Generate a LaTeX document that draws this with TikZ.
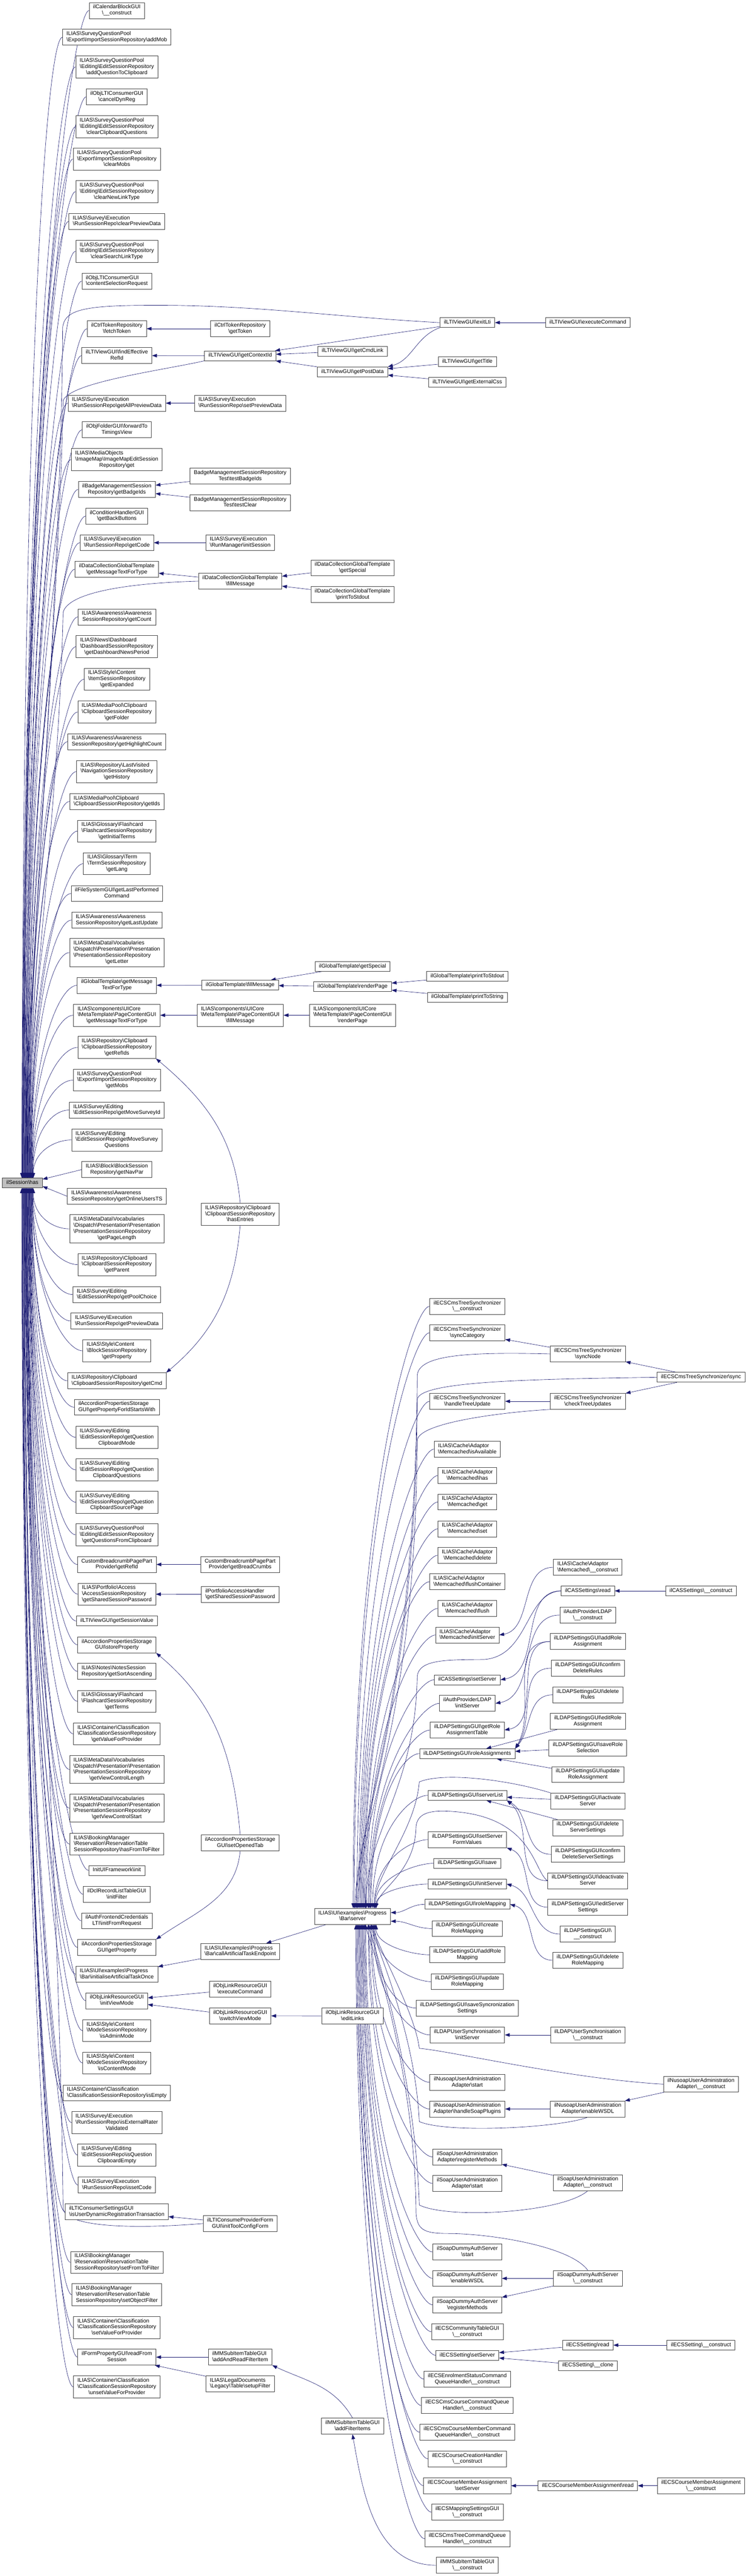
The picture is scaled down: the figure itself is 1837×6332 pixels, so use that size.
\documentclass[tikz,border=0pt]{standalone}
\usepackage{fontspec}
\setmainfont{Liberation Sans}
\usetikzlibrary{arrows.meta,calc}
\pgfdeclarelayer{edges}
\pgfsetlayers{edges,main}
\definecolor{callblue}{HTML}{191970}
\definecolor{boxline}{HTML}{404040}
\definecolor{rootgray}{HTML}{BFBFBF}
\newcommand\bsl{\textbackslash}
% all lines but the last left aligned, the last one centred
\newcommand\ftext[2]{\begin{tabular}{@{}l@{}}#1\multicolumn{1}{@{}c@{}}{#2}\end{tabular}}
\tikzset{
  func/.style={draw=boxline, fill=white, line width=0.75pt, inner xsep=7.3pt, inner ysep=3.4pt,
    font=\fontsize{10}{11.25}\selectfont},
  rootfn/.style={func, fill=rootgray},
  call/.style={draw=callblue, line width=0.6pt, -{Triangle[length=9pt,width=6.5pt]}},
}
% edges into ilSession\has from above and from below
\newcommand\tohas[1]{\draw[call] let \p1=(#1.west), \p2=(root.north west),
  \n1={36pt+22pt*((\y1)/(\y2))}, \n2={0.7*(\y1-\y2)} in
  (\p1) .. controls +(-30pt,0pt) and +(0pt,\n2) .. (\x2+\n1,\y2);}
\newcommand\tohasb[1]{\draw[call] let \p1=(#1.west), \p2=(root.south west),
  \n1={36pt+22pt*((\y1+4400pt)/(\y2+4400pt))}, \n2={0.7*(\y2-\y1)} in
  (\p1) .. controls +(-30pt,0pt) and +(0pt,-\n2) .. (\x2+\n1,\y2);}
% edges into Progress\Bar\server
\newcommand\tohub[1]{\draw[call] let \p1=(#1.west), \p2=(hub.north west),
  \n1={71pt+45pt*((\y1+2393pt)/(\y2+2393pt))}, \n2={0.7*(\y1-\y2)} in
  (\p1) .. controls +(-30pt,0pt) and +(0pt,\n2) .. (\x2+\n1,\y2);}
\newcommand\tohubb[1]{\draw[call] let \p1=(#1.west), \p2=(hub.south west),
  \n1={76pt+40pt*((\y1+4700pt)/(\y2+4700pt))}, \n2={0.7*(\y2-\y1)} in
  (\p1) .. controls +(-30pt,0pt) and +(0pt,-\n2) .. (\x2+\n1,\y2);}
\begin{document}
\begin{tikzpicture}[x=0.75pt,y=-0.75pt]
\useasboundingbox (0,0) rectangle (1837,6332);

\node[rootfn] (root) at (55,2908) {\ftext{}{ilSession\bsl has}};

% direct callers
\node[func] (a1) at (287,26) {\ftext{ilCalendarBlockGUI\\}{\bsl\_\_construct}};
\node[func] (a2) at (287,91.5) {\ftext{ILIAS\bsl SurveyQuestionPool\\}{\bsl Export\bsl ImportSessionRepository\bsl addMob}};
\node[func] (a3) at (287,164.5) {\ftext{ILIAS\bsl SurveyQuestionPool\\ \bsl Editing\bsl EditSessionRepository\\}{\bsl addQuestionToClipboard}};
\node[func] (a4) at (287,238) {\ftext{ilObjLTIConsumerGUI\\}{\bsl cancelDynReg}};
\node[func] (a5) at (287,311.5) {\ftext{ILIAS\bsl SurveyQuestionPool\\ \bsl Editing\bsl EditSessionRepository\\}{\bsl clearClipboardQuestions}};
\node[func] (a6) at (287,391) {\ftext{ILIAS\bsl SurveyQuestionPool\\ \bsl Export\bsl ImportSessionRepository\\}{\bsl clearMobs}};
\node[func] (a7) at (287,471) {\ftext{ILIAS\bsl SurveyQuestionPool\\ \bsl Editing\bsl EditSessionRepository\\}{\bsl clearNewLinkType}};
\node[func] (a8) at (287,544) {\ftext{ILIAS\bsl Survey\bsl Execution\\}{\bsl RunSessionRepo\bsl clearPreviewData}};
\node[func] (a9) at (287,617.5) {\ftext{ILIAS\bsl SurveyQuestionPool\\ \bsl Editing\bsl EditSessionRepository\\}{\bsl clearSearchLinkType}};
\node[func] (a10) at (287,691) {\ftext{ilObjLTIConsumerGUI\\}{\bsl contentSelectionRequest}};
\node[func] (a11) at (287,808) {\ftext{ilCtrlTokenRepository\\}{\bsl fetchToken}};
\node[func] (a12) at (287,874) {\ftext{ilLTIViewGUI\bsl findEffective\\}{RefId}};
\node[func] (a13) at (287,991) {\ftext{ILIAS\bsl Survey\bsl Execution\\}{\bsl RunSessionRepo\bsl getAllPreviewData}};
\node[func] (a14) at (287,1056.5) {\ftext{ilObjFolderGUI\bsl forwardTo\\}{TimingsView}};
\node[func] (a15) at (287,1129.5) {\ftext{ILIAS\bsl MediaObjects\\ \bsl ImageMap\bsl ImageMapEditSession\\}{Repository\bsl get}};
\node[func] (a16) at (287,1203) {\ftext{ilBadgeManagementSession\\}{Repository\bsl getBadgeIds}};
\node[func] (a17) at (287,1268.5) {\ftext{ilConditionHandlerGUI\\}{\bsl getBackButtons}};
\node[func] (a18) at (287,1334) {\ftext{ILIAS\bsl Survey\bsl Execution\\}{\bsl RunSessionRepo\bsl getCode}};
\node[func] (a19) at (287,1399) {\ftext{ilDataCollectionGlobalTemplate\\}{\bsl getMessageTextForType}};
\node[func] (a20) at (287,1516.5) {\ftext{ILIAS\bsl Awareness\bsl Awareness\\}{SessionRepository\bsl getCount}};
\node[func] (a21) at (287,1589.5) {\ftext{ILIAS\bsl News\bsl Dashboard\\ \bsl DashboardSessionRepository\\}{\bsl getDashboardNewsPeriod}};
\node[func] (a22) at (287,1669.5) {\ftext{ILIAS\bsl Style\bsl Content\\ \bsl ItemSessionRepository\\}{\bsl getExpanded}};
\node[func] (a23) at (287,1750) {\ftext{ILIAS\bsl MediaPool\bsl Clipboard\\ \bsl ClipboardSessionRepository\\}{\bsl getFolder}};
\node[func] (a24) at (287,1823) {\ftext{ILIAS\bsl Awareness\bsl Awareness\\}{SessionRepository\bsl getHighlightCount}};
\node[func] (a25) at (287,1896.5) {\ftext{ILIAS\bsl Repository\bsl LastVisited\\ \bsl NavigationSessionRepository\\}{\bsl getHistory}};
\node[func] (a26) at (287,1970) {\ftext{ILIAS\bsl MediaPool\bsl Clipboard\\}{\bsl ClipboardSessionRepository\bsl getIds}};
\node[func] (a27) at (287,2043) {\ftext{ILIAS\bsl Glossary\bsl Flashcard\\ \bsl FlashcardSessionRepository\\}{\bsl getInitialTerms}};
\node[func] (a28) at (287,2123) {\ftext{ILIAS\bsl Glossary\bsl Term\\ \bsl TermSessionRepository\\}{\bsl getLang}};
\node[func] (a29) at (287,2196.5) {\ftext{ilFileSystemGUI\bsl getLastPerformed\\}{Command}};
\node[func] (a30) at (287,2261.5) {\ftext{ILIAS\bsl Awareness\bsl Awareness\\}{SessionRepository\bsl getLastUpdate}};
\node[func] (a31) at (287,2341.5) {\ftext{ILIAS\bsl MetaData\bsl Vocabularies\\ \bsl Dispatch\bsl Presentation\bsl Presentation\\ \bsl PresentationSessionRepository\\}{\bsl getLetter}};
\node[func] (a32) at (287,2422) {\ftext{ilGlobalTemplate\bsl getMessage\\}{TextForType}};
\node[func] (a33) at (287,2495.5) {\ftext{ILIAS\bsl components\bsl UICore\\ \bsl MetaTemplate\bsl PageContentGUI\\}{\bsl getMessageTextForType}};
\node[func] (a34) at (287,2574.5) {\ftext{ILIAS\bsl Repository\bsl Clipboard\\ \bsl ClipboardSessionRepository\\}{\bsl getRefIds}};
\node[func] (a35) at (287,2655) {\ftext{ILIAS\bsl SurveyQuestionPool\\ \bsl Export\bsl ImportSessionRepository\\}{\bsl getMobs}};
\node[func] (a36) at (287,2728.5) {\ftext{ILIAS\bsl Survey\bsl Editing\\}{\bsl EditSessionRepo\bsl getMoveSurveyId}};
\node[func] (a37) at (287,2802) {\ftext{ILIAS\bsl Survey\bsl Editing\\ \bsl EditSessionRepo\bsl getMoveSurvey\\}{Questions}};
\node[func] (a38) at (287,2875) {\ftext{ILIAS\bsl Block\bsl BlockSession\\}{Repository\bsl getNavPar}};
\node[func] (a39) at (287,2940.5) {\ftext{ILIAS\bsl Awareness\bsl Awareness\\}{SessionRepository\bsl getOnlineUsersTS}};
\node[func] (a40) at (287,3020.5) {\ftext{ILIAS\bsl MetaData\bsl Vocabularies\\ \bsl Dispatch\bsl Presentation\bsl Presentation\\ \bsl PresentationSessionRepository\\}{\bsl getPageLength}};
\node[func] (a41) at (287,3108.5) {\ftext{ILIAS\bsl Repository\bsl Clipboard\\ \bsl ClipboardSessionRepository\\}{\bsl getParent}};
\node[func] (a42) at (287,3182) {\ftext{ILIAS\bsl Survey\bsl Editing\\}{\bsl EditSessionRepo\bsl getPoolChoice}};
\node[func] (a43) at (287,3247) {\ftext{ILIAS\bsl Survey\bsl Execution\\}{\bsl RunSessionRepo\bsl getPreviewData}};
\node[func] (a44) at (287,3320.5) {\ftext{ILIAS\bsl Style\bsl Content\\ \bsl BlockSessionRepository\\}{\bsl getProperty}};
\node[func] (a45) at (287,3394) {\ftext{ILIAS\bsl Repository\bsl Clipboard\\}{\bsl ClipboardSessionRepository\bsl getCmd}};
\node[func] (a46) at (287,3459) {\ftext{ilAccordionPropertiesStorage\\}{GUI\bsl getPropertyForIdStartsWith}};
\node[func] (a47) at (287,3533) {\ftext{ILIAS\bsl Survey\bsl Editing\\ \bsl EditSessionRepo\bsl getQuestion\\}{ClipboardMode}};
\node[func] (a48) at (287,3613) {\ftext{ILIAS\bsl Survey\bsl Editing\\ \bsl EditSessionRepo\bsl getQuestion\\}{ClipboardQuestions}};
\node[func] (a49) at (287,3692.5) {\ftext{ILIAS\bsl Survey\bsl Editing\\ \bsl EditSessionRepo\bsl getQuestion\\}{ClipboardSourcePage}};
\node[func] (a50) at (287,3772.5) {\ftext{ILIAS\bsl SurveyQuestionPool\\ \bsl Editing\bsl EditSessionRepository\\}{\bsl getQuestionsFromClipboard}};
\node[func] (a51) at (287,3845.5) {\ftext{CustomBreadcrumbPagePart\\}{Provider\bsl getRefId}};
\node[func] (a52) at (287,3918.5) {\ftext{ILIAS\bsl Portfolio\bsl Access\\ \bsl AccessSessionRepository\\}{\bsl getSharedSessionPassword}};
\node[func] (a53) at (287,3984.5) {\ftext{}{ilLTIViewGUI\bsl getSessionValue}};
\node[func] (a54) at (287,4043) {\ftext{ilAccordionPropertiesStorage\\}{GUI\bsl storeProperty}};
\node[func] (a55) at (287,4108.5) {\ftext{ILIAS\bsl Notes\bsl NotesSession\\}{Repository\bsl getSortAscending}};
\node[func] (a56) at (287,4182) {\ftext{ILIAS\bsl Glossary\bsl Flashcard\\ \bsl FlashcardSessionRepository\\}{\bsl getTerms}};
\node[func] (a57) at (287,4262) {\ftext{ILIAS\bsl Container\bsl Classification\\ \bsl ClassificationSessionRepository\\}{\bsl getValueForProvider}};
\node[func] (a58) at (287,4349.5) {\ftext{ILIAS\bsl MetaData\bsl Vocabularies\\ \bsl Dispatch\bsl Presentation\bsl Presentation\\ \bsl PresentationSessionRepository\\}{\bsl getViewControlLength}};
\node[func] (a59) at (287,4444.5) {\ftext{ILIAS\bsl MetaData\bsl Vocabularies\\ \bsl Dispatch\bsl Presentation\bsl Presentation\\ \bsl PresentationSessionRepository\\}{\bsl getViewControlStart}};
\node[func] (a60) at (287,4533) {\ftext{ILIAS\bsl BookingManager\\ \bsl Reservation\bsl ReservationTable\\}{SessionRepository\bsl hasFromToFilter}};
\node[func] (a61) at (287,4597.5) {\ftext{}{InitUIFramework\bsl init}};
\node[func] (a62) at (287,4656.5) {\ftext{ilDclRecordListTableGUI\\}{\bsl initFilter}};
\node[func] (a63) at (287,4721.5) {\ftext{ilAuthFrontendCredentials\\}{LTI\bsl initFromRequest}};
\node[func] (a64) at (287,4787) {\ftext{ilAccordionPropertiesStorage\\}{GUI\bsl getProperty}};
\node[func] (a65) at (287,4853) {\ftext{ILIAS\bsl UI\bsl examples\bsl Progress\\}{\bsl Bar\bsl initialiseArtificialTaskOnce}};
\node[func] (a66) at (287,4918) {\ftext{ilObjLinkResourceGUI\\}{\bsl initViewMode}};
\node[func] (a67) at (287,4991.5) {\ftext{ILIAS\bsl Style\bsl Content\\ \bsl ModeSessionRepository\\}{\bsl isAdminMode}};
\node[func] (a68) at (287,5071) {\ftext{ILIAS\bsl Style\bsl Content\\ \bsl ModeSessionRepository\\}{\bsl isContentMode}};
\node[func] (a69) at (287,5144.5) {\ftext{ILIAS\bsl Container\bsl Classification\\}{\bsl ClassificationSessionRepository\bsl isEmpty}};
\node[func] (a70) at (287,5217.5) {\ftext{ILIAS\bsl Survey\bsl Execution\\ \bsl RunSessionRepo\bsl isExternalRater\\}{Validated}};
\node[func] (a71) at (287,5297.5) {\ftext{ILIAS\bsl Survey\bsl Editing\\ \bsl EditSessionRepo\bsl isQuestion\\}{ClipboardEmpty}};
\node[func] (a72) at (287,5371) {\ftext{ILIAS\bsl Survey\bsl Execution\\}{\bsl RunSessionRepo\bsl issetCode}};
\node[func] (a73) at (287,5436.5) {\ftext{ilLTIConsumerSettingsGUI\\}{\bsl isUserDynamicRegistrationTransaction}};
\node[func] (a74) at (287,5561) {\ftext{ILIAS\bsl BookingManager\\ \bsl Reservation\bsl ReservationTable\\}{SessionRepository\bsl setFromToFilter}};
\node[func] (a75) at (287,5640.5) {\ftext{ILIAS\bsl BookingManager\\ \bsl Reservation\bsl ReservationTable\\}{SessionRepository\bsl setObjectFilter}};
\node[func] (a76) at (287,5721) {\ftext{ILIAS\bsl Container\bsl Classification\\ \bsl ClassificationSessionRepository\\}{\bsl setValueForProvider}};
\node[func] (a77) at (287,5794) {\ftext{ilFormPropertyGUI\bsl readFrom\\}{Session}};
\node[func] (a78) at (287,5867) {\ftext{ILIAS\bsl Container\bsl Classification\\ \bsl ClassificationSessionRepository\\}{\bsl unsetValueForProvider}};

% second level
\node[func] (b1) at (590,808) {\ftext{ilCtrlTokenRepository\\}{\bsl getToken}};
\node[func] (b2) at (590,874.5) {\ftext{}{ilLTIViewGUI\bsl getContextId}};
\node[func] (b3) at (590,991) {\ftext{ILIAS\bsl Survey\bsl Execution\\}{\bsl RunSessionRepo\bsl setPreviewData}};
\node[func] (b4) at (590,1170) {\ftext{BadgeManagementSessionRepository\\}{Test\bsl testBadgeIds}};
\node[func] (b5) at (590,1235.5) {\ftext{BadgeManagementSessionRepository\\}{Test\bsl testClear}};
\node[func] (b6) at (590,1334) {\ftext{ILIAS\bsl Survey\bsl Execution\\}{\bsl RunManager\bsl initSession}};
\node[func] (b7) at (590,1428.5) {\ftext{ilDataCollectionGlobalTemplate\\}{\bsl fillMessage}};
\node[func] (b8) at (590,2421.5) {\ftext{}{ilGlobalTemplate\bsl fillMessage}};
\node[func] (b9) at (590,2495.5) {\ftext{ILIAS\bsl components\bsl UICore\\ \bsl MetaTemplate\bsl PageContentGUI\\}{\bsl fillMessage}};
\node[func] (b10) at (590,2984.5) {\ftext{ILIAS\bsl Repository\bsl Clipboard\\ \bsl ClipboardSessionRepository\\}{\bsl hasEntries}};
\node[func] (b11) at (590,3845.5) {\ftext{CustomBreadcrumbPagePart\\}{Provider\bsl getBreadCrumbs}};
\node[func] (b12) at (590,3919) {\ftext{ilPortfolioAccessHandler\\}{\bsl getSharedSessionPassword}};
\node[func] (b13) at (590,4529.5) {\ftext{ilAccordionPropertiesStorage\\}{GUI\bsl setOpenedTab}};
\node[func] (b14) at (590,4796.5) {\ftext{ILIAS\bsl UI\bsl examples\bsl Progress\\}{\bsl Bar\bsl callArtificialTaskEndpoint}};
\node[func] (b15) at (590,4889.5) {\ftext{ilObjLinkResourceGUI\\}{\bsl executeCommand}};
\node[func] (b16) at (590,4955) {\ftext{ilObjLinkResourceGUI\\}{\bsl switchViewMode}};
\node[func] (b17) at (590,5465.5) {\ftext{ilLTIConsumeProviderForm\\}{GUI\bsl initToolConfigForm}};
\node[func] (b18) at (590,5794) {\ftext{ilMMSubItemTableGUI\\}{\bsl addAndReadFilterItem}};
\node[func] (b19) at (590,5859) {\ftext{ILIAS\bsl LegalDocuments\\}{\bsl Legacy\bsl Table\bsl setupFilter}};

% third level
\node[func] (d3) at (866,863) {\ftext{}{ilLTIViewGUI\bsl getCmdLink}};
\node[func] (d4) at (866,914) {\ftext{}{ilLTIViewGUI\bsl getPostData}};
\node[func] (e1) at (866,1396) {\ftext{ilDataCollectionGlobalTemplate\\}{\bsl getSpecial}};
\node[func] (e2) at (866,1461.5) {\ftext{ilDataCollectionGlobalTemplate\\}{\bsl printToStdout}};
\node[func] (e3) at (866,2375.5) {\ftext{}{ilGlobalTemplate\bsl getSpecial}};
\node[func] (e4) at (866,2425) {\ftext{}{ilGlobalTemplate\bsl renderPage}};
\node[func] (e7) at (866,2495.5) {\ftext{ILIAS\bsl components\bsl UICore\\ \bsl MetaTemplate\bsl PageContentGUI\\}{\bsl renderPage}};
\node[func] (hub) at (866,4710.5) {\ftext{ILIAS\bsl UI\bsl examples\bsl Progress\\}{\bsl Bar\bsl server}};
\node[func] (d1) at (866,4955.5) {\ftext{ilObjLinkResourceGUI\\}{\bsl editLinks}};
\node[func] (d2) at (866,5963.5) {\ftext{ilMMSubItemTableGUI\\}{\bsl addFilterItems}};

% fourth level and beyond, top part
\node[func] (c1) at (1148,793) {\ftext{}{ilLTIViewGUI\bsl exitLti}};
\node[func] (c3) at (1148,889) {\ftext{}{ilLTIViewGUI\bsl getTitle}};
\node[func] (c4) at (1148,940) {\ftext{}{ilLTIViewGUI\bsl getExternalCss}};
\node[func] (c2) at (1444,793) {\ftext{}{ilLTIViewGUI\bsl executeCommand}};
\node[func] (e5) at (1148,2400) {\ftext{}{ilGlobalTemplate\bsl printToStdout}};
\node[func] (e6) at (1148,2451) {\ftext{}{ilGlobalTemplate\bsl printToString}};

% callers of Progress\Bar\server
\node[func] (h1) at (1148,3211) {\ftext{ilECSCmsTreeSynchronizer\\}{\bsl\_\_construct}};
\node[func] (h2) at (1148,3276) {\ftext{ilECSCmsTreeSynchronizer\\}{\bsl syncCategory}};
\node[func] (h3) at (1148,3444.5) {\ftext{ilECSCmsTreeSynchronizer\\}{\bsl handleTreeUpdate}};
\node[func] (h4) at (1148,3562) {\ftext{ILIAS\bsl Cache\bsl Adaptor\\}{\bsl Memcached\bsl isAvailable}};
\node[func] (h5) at (1148,3627) {\ftext{ILIAS\bsl Cache\bsl Adaptor\\}{\bsl Memcached\bsl has}};
\node[func] (h6) at (1148,3692) {\ftext{ILIAS\bsl Cache\bsl Adaptor\\}{\bsl Memcached\bsl get}};
\node[func] (h7) at (1148,3758) {\ftext{ILIAS\bsl Cache\bsl Adaptor\\}{\bsl Memcached\bsl set}};
\node[func] (h8) at (1148,3823) {\ftext{ILIAS\bsl Cache\bsl Adaptor\\}{\bsl Memcached\bsl delete}};
\node[func] (h9) at (1148,3888) {\ftext{ILIAS\bsl Cache\bsl Adaptor\\}{\bsl Memcached\bsl flushContainer}};
\node[func] (h10) at (1148,3953.5) {\ftext{ILIAS\bsl Cache\bsl Adaptor\\}{\bsl Memcached\bsl flush}};
\node[func] (h11) at (1148,4019) {\ftext{ILIAS\bsl Cache\bsl Adaptor\\}{\bsl Memcached\bsl initServer}};
\node[func] (h12) at (1148,4129) {\ftext{}{ilCASSettings\bsl setServer}};
\node[func] (h13) at (1148,4187) {\ftext{ilAuthProviderLDAP\\}{\bsl initServer}};
\node[func] (h14) at (1148,4252.5) {\ftext{ilLDAPSettingsGUI\bsl getRole\\}{AssignmentTable}};
\node[func] (h15) at (1148,4310.5) {\ftext{}{ilLDAPSettingsGUI\bsl roleAssignments}};
\node[func] (h16) at (1148,4413) {\ftext{}{ilLDAPSettingsGUI\bsl serverList}};
\node[func] (h17) at (1148,4522) {\ftext{ilLDAPSettingsGUI\bsl setServer\\}{FormValues}};
\node[func] (h18) at (1148,4580) {\ftext{}{ilLDAPSettingsGUI\bsl save}};
\node[func] (h19) at (1148,4631) {\ftext{}{ilLDAPSettingsGUI\bsl initServer}};
\node[func] (h20) at (1148,4681) {\ftext{}{ilLDAPSettingsGUI\bsl roleMapping}};
\node[func] (h21) at (1148,4740.5) {\ftext{ilLDAPSettingsGUI\bsl create\\}{RoleMapping}};
\node[func] (h22) at (1148,4805) {\ftext{ilLDAPSettingsGUI\bsl addRole\\}{Mapping}};
\node[func] (h23) at (1148,4871) {\ftext{ilLDAPSettingsGUI\bsl update\\}{RoleMapping}};
\node[func] (h24) at (1148,4936) {\ftext{ilLDAPSettingsGUI\bsl saveSyncronization\\}{Settings}};
\node[func] (h25) at (1148,5002) {\ftext{ilLDAPUserSynchronisation\\}{\bsl initServer}};
\node[func] (h26) at (1148,5118.5) {\ftext{ilNusoapUserAdministration\\}{Adapter\bsl start}};
\node[func] (h27) at (1148,5184) {\ftext{ilNusoapUserAdministration\\}{Adapter\bsl handleSoapPlugins}};
\node[func] (h28) at (1148,5302) {\ftext{ilSoapUserAdministration\\}{Adapter\bsl registerMethods}};
\node[func] (h29) at (1148,5367) {\ftext{ilSoapUserAdministration\\}{Adapter\bsl start}};
\node[func] (h30) at (1148,5535.5) {\ftext{ilSoapDummyAuthServer\\}{\bsl start}};
\node[func] (h31) at (1148,5600.5) {\ftext{ilSoapDummyAuthServer\\}{\bsl enableWSDL}};
\node[func] (h32) at (1148,5665.5) {\ftext{ilSoapDummyAuthServer\\}{\bsl registerMethods}};
\node[func] (h33) at (1148,5731.5) {\ftext{ilECSCommunityTableGUI\\}{\bsl\_\_construct}};
\node[func] (h34) at (1148,5789.5) {\ftext{}{ilECSSetting\bsl setServer}};
\node[func] (h35) at (1148,5848) {\ftext{ilECSEnrolmentStatusCommand\\}{QueueHandler\bsl\_\_construct}};
\node[func] (h36) at (1148,5913) {\ftext{ilECSCmsCourseCommandQueue\\}{Handler\bsl\_\_construct}};
\node[func] (h37) at (1148,5978.5) {\ftext{ilECSCmsCourseMemberCommand\\}{QueueHandler\bsl\_\_construct}};
\node[func] (h38) at (1148,6044) {\ftext{ilECSCourseCreationHandler\\}{\bsl\_\_construct}};
\node[func] (h39) at (1148,6110) {\ftext{ilECSCourseMemberAssignment\\}{\bsl setServer}};
\node[func] (h40) at (1148,6175) {\ftext{ilECSMappingSettingsGUI\\}{\bsl\_\_construct}};
\node[func] (h41) at (1148,6240.5) {\ftext{ilECSCmsTreeCommandQueue\\}{Handler\bsl\_\_construct}};
\node[func] (h42) at (1148,6305.5) {\ftext{ilMMSubItemTableGUI\\}{\bsl\_\_construct}};

\node[func] (g1) at (1444,3328) {\ftext{ilECSCmsTreeSynchronizer\\}{\bsl syncNode}};
\node[func] (g2) at (1444,3444.5) {\ftext{ilECSCmsTreeSynchronizer\\}{\bsl checkTreeUpdates}};
\node[func] (g3) at (1444,3852.5) {\ftext{ILIAS\bsl Cache\bsl Adaptor\\}{\bsl Memcached\bsl\_\_construct}};
\node[func] (g4) at (1444,3910.5) {\ftext{}{ilCASSettings\bsl read}};
\node[func] (g5) at (1444,3970) {\ftext{ilAuthProviderLDAP\\}{\bsl\_\_construct}};
\node[func] (g6) at (1444,4035) {\ftext{ilLDAPSettingsGUI\bsl addRole\\}{Assignment}};
\node[func] (g7) at (1444,4100.5) {\ftext{ilLDAPSettingsGUI\bsl confirm\\}{DeleteRules}};
\node[func] (g8) at (1444,4166) {\ftext{ilLDAPSettingsGUI\bsl delete\\}{Rules}};
\node[func] (g9) at (1444,4231) {\ftext{ilLDAPSettingsGUI\bsl editRole\\}{Assignment}};
\node[func] (g10) at (1444,4296.5) {\ftext{ilLDAPSettingsGUI\bsl saveRole\\}{Selection}};
\node[func] (g11) at (1444,4362) {\ftext{ilLDAPSettingsGUI\bsl update\\}{RoleAssignment}};
\node[func] (g12) at (1444,4427) {\ftext{ilLDAPSettingsGUI\bsl activate\\}{Server}};
\node[func] (g13) at (1444,4492.5) {\ftext{ilLDAPSettingsGUI\bsl delete\\}{ServerSettings}};
\node[func] (g14) at (1444,4558) {\ftext{ilLDAPSettingsGUI\bsl confirm\\}{DeleteServerSettings}};
\node[func] (g15) at (1444,4623) {\ftext{ilLDAPSettingsGUI\bsl deactivate\\}{Server}};
\node[func] (g16) at (1444,4688) {\ftext{ilLDAPSettingsGUI\bsl editServer\\}{Settings}};
\node[func] (g17) at (1444,4754) {\ftext{ilLDAPSettingsGUI\bsl\\}{\_\_construct}};
\node[func] (g18) at (1444,4818.5) {\ftext{ilLDAPSettingsGUI\bsl delete\\}{RoleMapping}};
\node[func] (g19) at (1444,5002) {\ftext{ilLDAPUserSynchronisation\\}{\bsl\_\_construct}};
\node[func] (g20) at (1444,5184) {\ftext{ilNusoapUserAdministration\\}{Adapter\bsl enableWSDL}};
\node[func] (g21) at (1444,5365) {\ftext{ilSoapUserAdministration\\}{Adapter\bsl\_\_construct}};
\node[func] (g22) at (1444,5600.5) {\ftext{ilSoapDummyAuthServer\\}{\bsl\_\_construct}};
\node[func] (g23) at (1444,5764.5) {\ftext{}{ilECSSetting\bsl read}};
\node[func] (g24) at (1444,5814.5) {\ftext{}{ilECSSetting\bsl\_\_clone}};
\node[func] (g25) at (1444,6110) {\ftext{}{ilECSCourseMemberAssignment\bsl read}};

\node[func] (f1) at (1722,3385.5) {\ftext{}{ilECSCmsTreeSynchronizer\bsl sync}};
\node[func] (f2) at (1722,3910.5) {\ftext{}{ilCASSettings\bsl\_\_construct}};
\node[func] (f3) at (1722,5123) {\ftext{ilNusoapUserAdministration\\}{Adapter\bsl\_\_construct}};
\node[func] (f4) at (1722,5764.5) {\ftext{}{ilECSSetting\bsl\_\_construct}};
\node[func] (f5) at (1722,6110) {\ftext{ilECSCourseMemberAssignment\\}{\bsl\_\_construct}};

\begin{pgfonlayer}{edges}
% into ilSession\has
\foreach \i in {1,...,37} {\tohas{a\i}}
\foreach \i in {40,...,78} {\tohasb{a\i}}
\draw[call] (a38.west) -- ([yshift=7pt]root.east);
\draw[call] (a39.west) -- ([yshift=-6pt]root.east);
\draw[call] (c1.west) .. controls (800,778) and (600,745) .. (314,751) .. controls (200,754) and (158,765) .. (154,805) .. controls (150,1500) and (57,2600) .. ([xshift=42pt]root.north west);
\draw[call] (b2.south west) .. controls (400,910) and (170,940) .. (155,985) .. controls (145,1500) and (58,2600) .. ([xshift=42.6pt]root.north west);
\draw[call] (b7.west) .. controls (350,1432) and (170,1450) .. (155,1505) .. controls (145,2000) and (60,2600) .. ([xshift=46.8pt]root.north west);
\draw[call] (b17.west) .. controls (350,5478) and (165,5478) .. (155,5430) .. controls (145,4500) and (56,3200) .. ([xshift=39pt]root.south west);
% second level into first level
\draw[call] (b1) -- (a11);
\draw[call] (b2) -- (a12);
\draw[call] (b3) -- (a13);
\draw[call] (b4) -- (a16);
\draw[call] (b5) -- (a16);
\draw[call] (b6) -- (a18);
\draw[call] (b7) -- (a19);
\draw[call] (b8) -- (a32);
\draw[call] (b9) -- (a33);
\draw[call] (b10.north) to[out=95,in=-40] (a34.south east);
\draw[call] (b10.south) to[out=-95,in=40] (a45.north east);
\draw[call] (b11) -- (a51);
\draw[call] (b12) -- (a52);
\draw[call] (b13.north) to[out=95,in=-40] (a54.south east);
\draw[call] (b13.south) to[out=-95,in=35] (a64.north east);
\draw[call] (b14) -- (a65);
\draw[call] (b15) -- (a66);
\draw[call] (b16) -- (a66);
\draw[call] (b17) -- (a73);
\draw[call] (b18) -- (a77);
\draw[call] (b19) -- (a77);
% third level into second level
\draw[call] (c1) -- (b2);
\draw[call] (d3) -- (b2);
\draw[call] (d4) -- (b2);
\draw[call] (c1.south west) to[out=200,in=15] (d4.north east);
\draw[call] (c3) -- (d4);
\draw[call] (c4) -- (d4);
\draw[call] (c2) -- (c1);
\draw[call] (e1) -- (b7);
\draw[call] (e2) -- (b7);
\draw[call] (e3) -- (b8);
\draw[call] (e4) -- (b8);
\draw[call] (e5) -- (e4);
\draw[call] (e6) -- (e4);
\draw[call] (e7) -- (b9);
\draw[call] (hub) -- (b14);
\draw[call] (d1) -- (b16);
\draw[call] (d2.north) to[out=120,in=-25] (b18.south east);
\draw[call] (h42.west) to[out=180,in=-80] (d2.south);
% into Progress\Bar\server
\foreach \i in {1,...,19} {\tohub{h\i}}
\foreach \i in {22,...,41} {\tohubb{h\i}}
\draw[call] (h20.west) to[out=180,in=0] ([yshift=7pt]hub.east);
\draw[call] (h21.west) to[out=180,in=0] ([yshift=-9pt]hub.east);
\draw[call] (g1.west) .. controls (1150,3323) and (1030,3330) .. (1025,3380) .. controls (1020,4200) and (880,4450) .. ([xshift=75pt]hub.north west);
\draw[call] (f1.west) .. controls (1300,3390) and (1030,3395) .. (1025,3440) .. controls (1020,4200) and (882,4450) .. ([xshift=77pt]hub.north west);
\draw[call] (g2.south west) .. controls (1250,3470) and (1030,3495) .. (1025,3540) .. controls (1020,4250) and (885,4450) .. ([xshift=80pt]hub.north west);
\draw[call] (g4.west) .. controls (1290,3915) and (1300,4070) .. (1190,4079) .. controls (1100,4080) and (1030,4078) .. (1025,4120) .. controls (1020,4400) and (900,4500) .. ([xshift=95pt]hub.north west);
\draw[call] (g12.north west) .. controls (1250,4375) and (1090,4355) .. (1030,4380) .. controls (1020,4500) and (925,4600) .. ([xshift=110pt]hub.north west);
\draw[call] (g15.west) .. controls (1310,4600) and (1310,4460) .. (1098,4452) .. controls (1050,4450) and (1025,4460) .. (1022,4490) .. controls (1020,4600) and (935,4640) .. ([xshift=113pt]hub.north west);
\draw[call] (f3.west) .. controls (1400,5110) and (1100,5040) .. (1030,5035) .. controls (1020,4950) and (935,4800) .. ([xshift=106pt]hub.south west);
\draw[call] (g20.south) .. controls (1380,5230) and (1100,5245) .. (1030,5215) .. controls (1020,5000) and (930,4800) .. ([xshift=104pt]hub.south west);
\draw[call] (g21.south) .. controls (1380,5440) and (1100,5455) .. (1030,5420) .. controls (1020,5100) and (925,4800) .. ([xshift=99pt]hub.south west);
\draw[call] (g22.north) .. controls (1400,5520) and (1200,5490) .. (1100,5490) .. controls (1040,5490) and (1025,5480) .. (1022,5440) .. controls (1020,5100) and (920,4800) .. ([xshift=93pt]hub.south west);
% deeper levels
\draw[call] (g1) -- (h2);
\draw[call] (f1) -- (g1);
\draw[call] (f1) -- (g2);
\draw[call] (g2) -- (h3);
\draw[call] (g3.west) to[out=180,in=10] (h11.east);
\draw[call] (g4.west) to[out=180,in=10] (h12.east);
\draw[call] (f2) -- (g4);
\draw[call] (g5.west) to[out=180,in=10] (h13.east);
\draw[call] (g6.west) to[out=180,in=10] (h14.east);
\draw[call] (g6.west) to[out=180,in=60] (h15.north east);
\draw[call] (g7.west) to[out=180,in=55] (h15.north east);
\draw[call] (g8.west) to[out=180,in=50] (h15.north east);
\draw[call] (g9) -- (h15);
\draw[call] (g10) -- (h15);
\draw[call] (g11) -- (h15);
\draw[call] (g12) -- (h16);
\draw[call] (g13) -- (h16);
\draw[call] (g14.west) to[out=180,in=-30] (h16.south east);
\draw[call] (g15.west) to[out=180,in=-40] (h16.south east);
\draw[call] (g16.west) to[out=180,in=-20] (h17.south east);
\draw[call] (g17.west) to[out=180,in=-15] (h19.east);
\draw[call] (g18.west) to[out=180,in=-15] (h20.east);
\draw[call] (g19) -- (h25);
\draw[call] (f3) -- (g20);
\draw[call] (g20) -- (h27);
\draw[call] (g21) -- (h28);
\draw[call] (g22) -- (h31);
\draw[call] (g22) -- (h32);
\draw[call] (f4) -- (g23);
\draw[call] (g23) -- (h34);
\draw[call] (g24) -- (h34);
\draw[call] (f5) -- (g25);
\draw[call] (g25) -- (h39);
\end{pgfonlayer}
\end{tikzpicture}
\end{document}
